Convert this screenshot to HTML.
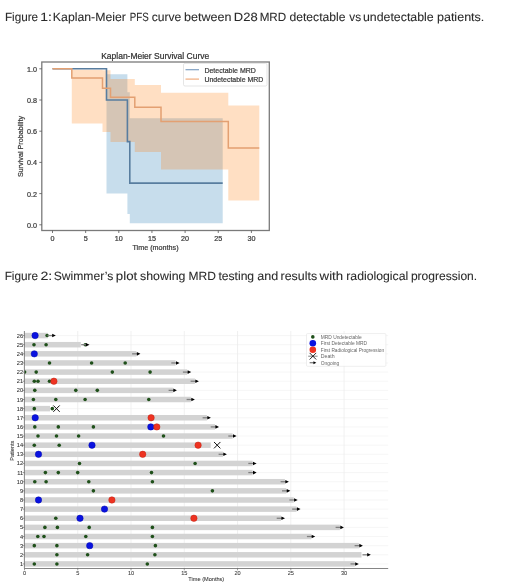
<!DOCTYPE html>
<html><head><meta charset="utf-8"><style>
html,body{margin:0;padding:0;background:#fff;}
body{width:520px;height:586px;overflow:hidden;position:relative;font-family:"Liberation Sans", sans-serif;}
#wrap{position:absolute;left:0;top:0;width:520px;height:586px;will-change:transform;}
svg{position:absolute;left:0;top:0;}
svg text{font-family:"Liberation Sans", sans-serif;}
.km text{stroke:#444;stroke-width:0.22px;}
.sw text{stroke:#444;stroke-width:0.08px;}
.cap{stroke:#2b2b2b;stroke-width:0.08px;text-rendering:geometricPrecision;}
</style></head><body>
<div id="wrap"><svg width="520" height="586" viewBox="0 0 520 586">
<rect width="520" height="586" fill="#fff"/>
<g>
<text class="cap" x="4.91" y="20.60" font-size="12" fill="#2b2b2b" textLength="33.21" lengthAdjust="spacingAndGlyphs">Figure</text>
<text class="cap" x="40.21" y="20.60" font-size="12" fill="#2b2b2b" textLength="11.62" lengthAdjust="spacingAndGlyphs">1:</text>
<text class="cap" x="52.87" y="20.60" font-size="12" fill="#2b2b2b" textLength="73.08" lengthAdjust="spacingAndGlyphs">Kaplan-Meier</text>
<text class="cap" x="129.74" y="20.60" font-size="12" fill="#2b2b2b" textLength="18.97" lengthAdjust="spacingAndGlyphs">PFS</text>
<text class="cap" x="151.65" y="20.60" font-size="12" fill="#2b2b2b" textLength="29.56" lengthAdjust="spacingAndGlyphs">curve</text>
<text class="cap" x="183.99" y="20.60" font-size="12" fill="#2b2b2b" textLength="47.41" lengthAdjust="spacingAndGlyphs">between</text>
<text class="cap" x="233.82" y="20.60" font-size="12" fill="#2b2b2b" textLength="23.80" lengthAdjust="spacingAndGlyphs">D28</text>
<text class="cap" x="259.66" y="20.60" font-size="12" fill="#2b2b2b" textLength="26.55" lengthAdjust="spacingAndGlyphs">MRD</text>
<text class="cap" x="289.48" y="20.60" font-size="12" fill="#2b2b2b" textLength="56.06" lengthAdjust="spacingAndGlyphs">detectable</text>
<text class="cap" x="349.35" y="20.60" font-size="12" fill="#2b2b2b" textLength="11.75" lengthAdjust="spacingAndGlyphs">vs</text>
<text class="cap" x="362.97" y="20.60" font-size="12" fill="#2b2b2b" textLength="70.73" lengthAdjust="spacingAndGlyphs">undetectable</text>
<text class="cap" x="436.94" y="20.60" font-size="12" fill="#2b2b2b" textLength="47.41" lengthAdjust="spacingAndGlyphs">patients.</text>
<text class="cap" x="4.66" y="279.60" font-size="12" fill="#2b2b2b" textLength="33.39" lengthAdjust="spacingAndGlyphs">Figure</text>
<text class="cap" x="40.44" y="279.60" font-size="12" fill="#2b2b2b" textLength="11.82" lengthAdjust="spacingAndGlyphs">2:</text>
<text class="cap" x="53.76" y="279.60" font-size="12" fill="#2b2b2b" textLength="59.48" lengthAdjust="spacingAndGlyphs">Swimmer’s</text>
<text class="cap" x="115.86" y="279.60" font-size="12" fill="#2b2b2b" textLength="21.42" lengthAdjust="spacingAndGlyphs">plot</text>
<text class="cap" x="140.08" y="279.60" font-size="12" fill="#2b2b2b" textLength="45.28" lengthAdjust="spacingAndGlyphs">showing</text>
<text class="cap" x="188.48" y="279.60" font-size="12" fill="#2b2b2b" textLength="27.39" lengthAdjust="spacingAndGlyphs">MRD</text>
<text class="cap" x="218.40" y="279.60" font-size="12" fill="#2b2b2b" textLength="35.73" lengthAdjust="spacingAndGlyphs">testing</text>
<text class="cap" x="257.37" y="279.60" font-size="12" fill="#2b2b2b" textLength="20.99" lengthAdjust="spacingAndGlyphs">and</text>
<text class="cap" x="280.62" y="279.60" font-size="12" fill="#2b2b2b" textLength="36.48" lengthAdjust="spacingAndGlyphs">results</text>
<text class="cap" x="319.59" y="279.60" font-size="12" fill="#2b2b2b" textLength="23.56" lengthAdjust="spacingAndGlyphs">with</text>
<text class="cap" x="346.28" y="279.60" font-size="12" fill="#2b2b2b" textLength="62.00" lengthAdjust="spacingAndGlyphs">radiological</text>
<text class="cap" x="410.91" y="279.60" font-size="12" fill="#2b2b2b" textLength="66.24" lengthAdjust="spacingAndGlyphs">progression.</text>
<g class="km"><path d="M106.5 74.26 L127.4 74.26 L127.4 92.2 L129.8 92.2 L129.8 118.25 L222.7 118.25 L222.7 223.24 L129.8 223.24 L129.8 213.88 L127.4 213.88 L127.4 193.6 L106.5 193.6 Z" fill="#1f77b4" fill-opacity="0.25"/>
<path d="M71.8 69.74 L102.5 69.74 L102.5 70.36 L110.5 70.36 L110.5 79.1 L134.8 79.1 L134.8 85.02 L161 85.02 L161 92.67 L228.3 92.67 L228.3 105.46 L259.3 105.46 L259.3 200.46 L228.3 200.46 L228.3 169.42 L161 169.42 L161 151.95 L134.8 151.95 L134.8 142.12 L110.5 142.12 L110.5 131.98 L102.5 131.98 L102.5 123.4 L71.8 123.4 Z" fill="#ff7f0e" fill-opacity="0.25"/>
<path d="M52.5 68.8 H106.5 V100 H127.4 V141.65 H129.8 V183.15 H222.7" fill="none" stroke="#587d9f" stroke-width="1.6"/>
<path d="M52.5 68.8 H71.8 V78 H102.5 V88.14 H110.5 V97.19 H134.8 V107.33 H161 V121.53 H228.3 V148.05 H259.3" fill="none" stroke="#e3a072" stroke-width="1.5"/>
<rect x="41.8" y="62" width="227.5" height="168.5" fill="none" stroke="#7a7a7a" stroke-width="1.3"/>
<line x1="39.3" y1="224.8" x2="41.8" y2="224.8" stroke="#555" stroke-width="0.8"/>
<text x="36.9" y="227.8" font-size="7.2" text-anchor="end" fill="#333">0.0</text>
<line x1="39.3" y1="193.6" x2="41.8" y2="193.6" stroke="#555" stroke-width="0.8"/>
<text x="36.9" y="196.6" font-size="7.2" text-anchor="end" fill="#333">0.2</text>
<line x1="39.3" y1="162.4" x2="41.8" y2="162.4" stroke="#555" stroke-width="0.8"/>
<text x="36.9" y="165.4" font-size="7.2" text-anchor="end" fill="#333">0.4</text>
<line x1="39.3" y1="131.2" x2="41.8" y2="131.2" stroke="#555" stroke-width="0.8"/>
<text x="36.9" y="134.2" font-size="7.2" text-anchor="end" fill="#333">0.6</text>
<line x1="39.3" y1="100" x2="41.8" y2="100" stroke="#555" stroke-width="0.8"/>
<text x="36.9" y="103" font-size="7.2" text-anchor="end" fill="#333">0.8</text>
<line x1="39.3" y1="68.8" x2="41.8" y2="68.8" stroke="#555" stroke-width="0.8"/>
<text x="36.9" y="71.8" font-size="7.2" text-anchor="end" fill="#333">1.0</text>
<line x1="52.5" y1="230.5" x2="52.5" y2="233" stroke="#555" stroke-width="0.8"/>
<text x="52.5" y="240.5" font-size="7.2" text-anchor="middle" fill="#333">0</text>
<line x1="85.65" y1="230.5" x2="85.65" y2="233" stroke="#555" stroke-width="0.8"/>
<text x="85.65" y="240.5" font-size="7.2" text-anchor="middle" fill="#333">5</text>
<line x1="118.8" y1="230.5" x2="118.8" y2="233" stroke="#555" stroke-width="0.8"/>
<text x="118.8" y="240.5" font-size="7.2" text-anchor="middle" fill="#333">10</text>
<line x1="151.95" y1="230.5" x2="151.95" y2="233" stroke="#555" stroke-width="0.8"/>
<text x="151.95" y="240.5" font-size="7.2" text-anchor="middle" fill="#333">15</text>
<line x1="185.1" y1="230.5" x2="185.1" y2="233" stroke="#555" stroke-width="0.8"/>
<text x="185.1" y="240.5" font-size="7.2" text-anchor="middle" fill="#333">20</text>
<line x1="218.25" y1="230.5" x2="218.25" y2="233" stroke="#555" stroke-width="0.8"/>
<text x="218.25" y="240.5" font-size="7.2" text-anchor="middle" fill="#333">25</text>
<line x1="251.4" y1="230.5" x2="251.4" y2="233" stroke="#555" stroke-width="0.8"/>
<text x="251.4" y="240.5" font-size="7.2" text-anchor="middle" fill="#333">30</text>
<text x="155.2" y="58.5" font-size="8.6" text-anchor="middle" fill="#222" textLength="108" lengthAdjust="spacingAndGlyphs">Kaplan-Meier Survival Curve</text>
<text x="155.5" y="249.5" font-size="7.2" text-anchor="middle" fill="#333">Time (months)</text>
<text transform="translate(22.8,146.5) rotate(-90)" font-size="7.2" text-anchor="middle" fill="#333">Survival Probability</text>
<rect x="183.5" y="63.4" width="83.5" height="22.6" rx="1.5" fill="#fff" fill-opacity="0.85" stroke="#dadada" stroke-width="0.7"/>
<line x1="185.5" y1="69.7" x2="199" y2="69.7" stroke="#7fa0c2" stroke-width="1.2"/>
<line x1="185.5" y1="79.1" x2="199" y2="79.1" stroke="#f0ad7e" stroke-width="1.2"/>
<text x="204.4" y="72.5" font-size="7.2" fill="#333" textLength="51.5" lengthAdjust="spacingAndGlyphs">Detectable MRD</text>
<text x="204.4" y="81.8" font-size="7.2" fill="#333" textLength="59" lengthAdjust="spacingAndGlyphs">Undetectable MRD</text></g>
<g class="sw"><defs><clipPath id="swclip"><rect x="24.4" y="331" width="363" height="237.5"/></clipPath></defs>
<line x1="77.76" y1="331" x2="77.76" y2="568.5" stroke="#e6e6e6" stroke-width="0.6"/>
<line x1="131.02" y1="331" x2="131.02" y2="568.5" stroke="#e6e6e6" stroke-width="0.6"/>
<line x1="184.28" y1="331" x2="184.28" y2="568.5" stroke="#e6e6e6" stroke-width="0.6"/>
<line x1="237.54" y1="331" x2="237.54" y2="568.5" stroke="#e6e6e6" stroke-width="0.6"/>
<line x1="290.8" y1="331" x2="290.8" y2="568.5" stroke="#e6e6e6" stroke-width="0.6"/>
<line x1="344.06" y1="331" x2="344.06" y2="568.5" stroke="#e6e6e6" stroke-width="0.6"/>
<line x1="24.4" y1="563.93" x2="388.2" y2="563.93" stroke="#ececec" stroke-width="0.5"/>
<line x1="24.4" y1="554.8" x2="388.2" y2="554.8" stroke="#ececec" stroke-width="0.5"/>
<line x1="24.4" y1="545.66" x2="388.2" y2="545.66" stroke="#ececec" stroke-width="0.5"/>
<line x1="24.4" y1="536.53" x2="388.2" y2="536.53" stroke="#ececec" stroke-width="0.5"/>
<line x1="24.4" y1="527.39" x2="388.2" y2="527.39" stroke="#ececec" stroke-width="0.5"/>
<line x1="24.4" y1="518.26" x2="388.2" y2="518.26" stroke="#ececec" stroke-width="0.5"/>
<line x1="24.4" y1="509.12" x2="388.2" y2="509.12" stroke="#ececec" stroke-width="0.5"/>
<line x1="24.4" y1="499.99" x2="388.2" y2="499.99" stroke="#ececec" stroke-width="0.5"/>
<line x1="24.4" y1="490.85" x2="388.2" y2="490.85" stroke="#ececec" stroke-width="0.5"/>
<line x1="24.4" y1="481.72" x2="388.2" y2="481.72" stroke="#ececec" stroke-width="0.5"/>
<line x1="24.4" y1="472.58" x2="388.2" y2="472.58" stroke="#ececec" stroke-width="0.5"/>
<line x1="24.4" y1="463.45" x2="388.2" y2="463.45" stroke="#ececec" stroke-width="0.5"/>
<line x1="24.4" y1="454.31" x2="388.2" y2="454.31" stroke="#ececec" stroke-width="0.5"/>
<line x1="24.4" y1="445.18" x2="388.2" y2="445.18" stroke="#ececec" stroke-width="0.5"/>
<line x1="24.4" y1="436.04" x2="388.2" y2="436.04" stroke="#ececec" stroke-width="0.5"/>
<line x1="24.4" y1="426.91" x2="388.2" y2="426.91" stroke="#ececec" stroke-width="0.5"/>
<line x1="24.4" y1="417.77" x2="388.2" y2="417.77" stroke="#ececec" stroke-width="0.5"/>
<line x1="24.4" y1="408.64" x2="388.2" y2="408.64" stroke="#ececec" stroke-width="0.5"/>
<line x1="24.4" y1="399.5" x2="388.2" y2="399.5" stroke="#ececec" stroke-width="0.5"/>
<line x1="24.4" y1="390.37" x2="388.2" y2="390.37" stroke="#ececec" stroke-width="0.5"/>
<line x1="24.4" y1="381.23" x2="388.2" y2="381.23" stroke="#ececec" stroke-width="0.5"/>
<line x1="24.4" y1="372.1" x2="388.2" y2="372.1" stroke="#ececec" stroke-width="0.5"/>
<line x1="24.4" y1="362.96" x2="388.2" y2="362.96" stroke="#ececec" stroke-width="0.5"/>
<line x1="24.4" y1="353.83" x2="388.2" y2="353.83" stroke="#ececec" stroke-width="0.5"/>
<line x1="24.4" y1="344.69" x2="388.2" y2="344.69" stroke="#ececec" stroke-width="0.5"/>
<line x1="24.4" y1="335.56" x2="388.2" y2="335.56" stroke="#ececec" stroke-width="0.5"/>
<rect x="24.4" y="332.81" width="23.4" height="5.5" fill="#d3d3d3"/>
<rect x="24.4" y="341.94" width="56.4" height="5.5" fill="#d3d3d3"/>
<rect x="24.4" y="351.08" width="112" height="5.5" fill="#d3d3d3"/>
<rect x="24.4" y="360.21" width="151.2" height="5.5" fill="#d3d3d3"/>
<rect x="24.4" y="369.35" width="162.8" height="5.5" fill="#d3d3d3"/>
<rect x="24.4" y="378.48" width="170.5" height="5.5" fill="#d3d3d3"/>
<rect x="24.4" y="387.62" width="148.5" height="5.5" fill="#d3d3d3"/>
<rect x="24.4" y="396.75" width="166.5" height="5.5" fill="#d3d3d3"/>
<rect x="24.4" y="405.89" width="25.6" height="5.5" fill="#d3d3d3"/>
<rect x="24.4" y="415.02" width="182.5" height="5.5" fill="#d3d3d3"/>
<rect x="24.4" y="424.16" width="190.6" height="5.5" fill="#d3d3d3"/>
<rect x="24.4" y="433.29" width="208.2" height="5.5" fill="#d3d3d3"/>
<rect x="24.4" y="442.43" width="186.3" height="5.5" fill="#d3d3d3"/>
<rect x="24.4" y="451.56" width="198.5" height="5.5" fill="#d3d3d3"/>
<rect x="24.4" y="460.7" width="228.2" height="5.5" fill="#d3d3d3"/>
<rect x="24.4" y="469.83" width="228.2" height="5.5" fill="#d3d3d3"/>
<rect x="24.4" y="478.97" width="260.5" height="5.5" fill="#d3d3d3"/>
<rect x="24.4" y="488.1" width="261.9" height="5.5" fill="#d3d3d3"/>
<rect x="24.4" y="497.24" width="269.3" height="5.5" fill="#d3d3d3"/>
<rect x="24.4" y="506.37" width="272.1" height="5.5" fill="#d3d3d3"/>
<rect x="24.4" y="515.51" width="256.6" height="5.5" fill="#d3d3d3"/>
<rect x="24.4" y="524.64" width="315.5" height="5.5" fill="#d3d3d3"/>
<rect x="24.4" y="533.78" width="286.8" height="5.5" fill="#d3d3d3"/>
<rect x="24.4" y="542.91" width="334.5" height="5.5" fill="#d3d3d3"/>
<rect x="24.4" y="552.05" width="337.1" height="5.5" fill="#d3d3d3"/>
<rect x="24.4" y="561.18" width="330.4" height="5.5" fill="#d3d3d3"/>
<circle cx="47.1" cy="335.56" r="1.8" fill="#1f501a" clip-path="url(#swclip)"/>
<circle cx="35.1" cy="335.56" r="3.2" fill="#0a12e0" stroke="#0008b0" stroke-width="0.5"/>
<line x1="47.5" y1="335.56" x2="52.8" y2="335.56" stroke="#808080" stroke-width="1.3"/><path d="M55.8 335.56 L52.2 333.76 L52.2 337.36 Z" fill="#000"/>
<circle cx="34" cy="344.69" r="1.8" fill="#1f501a" clip-path="url(#swclip)"/>
<circle cx="46.1" cy="344.69" r="1.8" fill="#1f501a" clip-path="url(#swclip)"/>
<circle cx="85.3" cy="344.69" r="1.8" fill="#1f501a" clip-path="url(#swclip)"/>
<line x1="81.2" y1="344.69" x2="86.5" y2="344.69" stroke="#808080" stroke-width="1.3"/><path d="M89.5 344.69 L85.9 342.89 L85.9 346.49 Z" fill="#000"/>
<circle cx="34.3" cy="353.83" r="3.2" fill="#0a12e0" stroke="#0008b0" stroke-width="0.5"/>
<line x1="132.1" y1="353.83" x2="137.4" y2="353.83" stroke="#808080" stroke-width="1.3"/><path d="M140.4 353.83 L136.8 352.03 L136.8 355.63 Z" fill="#000"/>
<circle cx="49.5" cy="362.96" r="1.8" fill="#1f501a" clip-path="url(#swclip)"/>
<circle cx="91.6" cy="362.96" r="1.8" fill="#1f501a" clip-path="url(#swclip)"/>
<circle cx="125.2" cy="362.96" r="1.8" fill="#1f501a" clip-path="url(#swclip)"/>
<line x1="171.3" y1="362.96" x2="176.6" y2="362.96" stroke="#808080" stroke-width="1.3"/><path d="M179.6 362.96 L176 361.16 L176 364.76 Z" fill="#000"/>
<circle cx="24.6" cy="372.1" r="1.8" fill="#1f501a" clip-path="url(#swclip)"/>
<circle cx="36.2" cy="372.1" r="1.8" fill="#1f501a" clip-path="url(#swclip)"/>
<circle cx="112.3" cy="372.1" r="1.8" fill="#1f501a" clip-path="url(#swclip)"/>
<circle cx="150.1" cy="372.1" r="1.8" fill="#1f501a" clip-path="url(#swclip)"/>
<line x1="182.9" y1="372.1" x2="188.2" y2="372.1" stroke="#808080" stroke-width="1.3"/><path d="M191.2 372.1 L187.6 370.3 L187.6 373.9 Z" fill="#000"/>
<circle cx="34.3" cy="381.23" r="1.8" fill="#1f501a" clip-path="url(#swclip)"/>
<circle cx="38" cy="381.23" r="1.8" fill="#1f501a" clip-path="url(#swclip)"/>
<circle cx="49.5" cy="381.23" r="1.8" fill="#1f501a" clip-path="url(#swclip)"/>
<circle cx="53.9" cy="381.23" r="3.2" fill="#ee3322" stroke="#c02414" stroke-width="0.5"/>
<line x1="190.6" y1="381.23" x2="195.9" y2="381.23" stroke="#808080" stroke-width="1.3"/><path d="M198.9 381.23 L195.3 379.43 L195.3 383.03 Z" fill="#000"/>
<circle cx="34.8" cy="390.37" r="1.8" fill="#1f501a" clip-path="url(#swclip)"/>
<circle cx="75.8" cy="390.37" r="1.8" fill="#1f501a" clip-path="url(#swclip)"/>
<circle cx="97.3" cy="390.37" r="1.8" fill="#1f501a" clip-path="url(#swclip)"/>
<line x1="168.6" y1="390.37" x2="173.9" y2="390.37" stroke="#808080" stroke-width="1.3"/><path d="M176.9 390.37 L173.3 388.57 L173.3 392.17 Z" fill="#000"/>
<circle cx="33.4" cy="399.5" r="1.8" fill="#1f501a" clip-path="url(#swclip)"/>
<circle cx="55.8" cy="399.5" r="1.8" fill="#1f501a" clip-path="url(#swclip)"/>
<circle cx="85.1" cy="399.5" r="1.8" fill="#1f501a" clip-path="url(#swclip)"/>
<circle cx="148.8" cy="399.5" r="1.8" fill="#1f501a" clip-path="url(#swclip)"/>
<line x1="186.6" y1="399.5" x2="191.9" y2="399.5" stroke="#808080" stroke-width="1.3"/><path d="M194.9 399.5 L191.3 397.7 L191.3 401.3 Z" fill="#000"/>
<circle cx="34.3" cy="408.64" r="1.8" fill="#1f501a" clip-path="url(#swclip)"/>
<circle cx="52.3" cy="408.64" r="1.8" fill="#1f501a" clip-path="url(#swclip)"/>
<path d="M53.3 405.44 L59.7 411.84 M53.3 411.84 L59.7 405.44" stroke="#111" stroke-width="1"/>
<circle cx="35.2" cy="417.77" r="3.2" fill="#0a12e0" stroke="#0008b0" stroke-width="0.5"/>
<circle cx="151.1" cy="417.77" r="3.2" fill="#ee3322" stroke="#c02414" stroke-width="0.5"/>
<line x1="202.6" y1="417.77" x2="207.9" y2="417.77" stroke="#808080" stroke-width="1.3"/><path d="M210.9 417.77 L207.3 415.97 L207.3 419.57 Z" fill="#000"/>
<circle cx="34.8" cy="426.91" r="1.8" fill="#1f501a" clip-path="url(#swclip)"/>
<circle cx="58.3" cy="426.91" r="1.8" fill="#1f501a" clip-path="url(#swclip)"/>
<circle cx="93.4" cy="426.91" r="1.8" fill="#1f501a" clip-path="url(#swclip)"/>
<circle cx="150.8" cy="426.91" r="3.2" fill="#0a12e0" stroke="#0008b0" stroke-width="0.5"/>
<circle cx="156.8" cy="426.91" r="3.2" fill="#ee3322" stroke="#c02414" stroke-width="0.5"/>
<line x1="210.7" y1="426.91" x2="216" y2="426.91" stroke="#808080" stroke-width="1.3"/><path d="M219 426.91 L215.4 425.11 L215.4 428.71 Z" fill="#000"/>
<circle cx="38" cy="436.04" r="1.8" fill="#1f501a" clip-path="url(#swclip)"/>
<circle cx="56.5" cy="436.04" r="1.8" fill="#1f501a" clip-path="url(#swclip)"/>
<circle cx="78.6" cy="436.04" r="1.8" fill="#1f501a" clip-path="url(#swclip)"/>
<circle cx="163.5" cy="436.04" r="1.8" fill="#1f501a" clip-path="url(#swclip)"/>
<line x1="228.3" y1="436.04" x2="233.6" y2="436.04" stroke="#808080" stroke-width="1.3"/><path d="M236.6 436.04 L233 434.24 L233 437.84 Z" fill="#000"/>
<circle cx="34.3" cy="445.18" r="1.8" fill="#1f501a" clip-path="url(#swclip)"/>
<circle cx="59.2" cy="445.18" r="1.8" fill="#1f501a" clip-path="url(#swclip)"/>
<circle cx="92" cy="445.18" r="3.2" fill="#0a12e0" stroke="#0008b0" stroke-width="0.5"/>
<circle cx="198.1" cy="445.18" r="3.2" fill="#ee3322" stroke="#c02414" stroke-width="0.5"/>
<path d="M214 441.98 L220.4 448.38 M214 448.38 L220.4 441.98" stroke="#111" stroke-width="1"/>
<circle cx="38.5" cy="454.31" r="3.2" fill="#0a12e0" stroke="#0008b0" stroke-width="0.5"/>
<circle cx="142.7" cy="454.31" r="3.2" fill="#ee3322" stroke="#c02414" stroke-width="0.5"/>
<line x1="218.6" y1="454.31" x2="223.9" y2="454.31" stroke="#808080" stroke-width="1.3"/><path d="M226.9 454.31 L223.3 452.51 L223.3 456.11 Z" fill="#000"/>
<circle cx="79.5" cy="463.45" r="1.8" fill="#1f501a" clip-path="url(#swclip)"/>
<circle cx="195.1" cy="463.45" r="1.8" fill="#1f501a" clip-path="url(#swclip)"/>
<line x1="248.3" y1="463.45" x2="253.6" y2="463.45" stroke="#808080" stroke-width="1.3"/><path d="M256.6 463.45 L253 461.65 L253 465.25 Z" fill="#000"/>
<circle cx="45.4" cy="472.58" r="1.8" fill="#1f501a" clip-path="url(#swclip)"/>
<circle cx="58.3" cy="472.58" r="1.8" fill="#1f501a" clip-path="url(#swclip)"/>
<circle cx="77.7" cy="472.58" r="1.8" fill="#1f501a" clip-path="url(#swclip)"/>
<circle cx="151.5" cy="472.58" r="1.8" fill="#1f501a" clip-path="url(#swclip)"/>
<line x1="248.3" y1="472.58" x2="253.6" y2="472.58" stroke="#808080" stroke-width="1.3"/><path d="M256.6 472.58 L253 470.78 L253 474.38 Z" fill="#000"/>
<circle cx="34.8" cy="481.72" r="1.8" fill="#1f501a" clip-path="url(#swclip)"/>
<circle cx="46.1" cy="481.72" r="1.8" fill="#1f501a" clip-path="url(#swclip)"/>
<circle cx="88.8" cy="481.72" r="1.8" fill="#1f501a" clip-path="url(#swclip)"/>
<circle cx="152.4" cy="481.72" r="1.8" fill="#1f501a" clip-path="url(#swclip)"/>
<line x1="280.6" y1="481.72" x2="285.9" y2="481.72" stroke="#808080" stroke-width="1.3"/><path d="M288.9 481.72 L285.3 479.92 L285.3 483.52 Z" fill="#000"/>
<circle cx="93.4" cy="490.85" r="1.8" fill="#1f501a" clip-path="url(#swclip)"/>
<circle cx="212.4" cy="490.85" r="1.8" fill="#1f501a" clip-path="url(#swclip)"/>
<line x1="282" y1="490.85" x2="287.3" y2="490.85" stroke="#808080" stroke-width="1.3"/><path d="M290.3 490.85 L286.7 489.05 L286.7 492.65 Z" fill="#000"/>
<circle cx="38.5" cy="499.99" r="3.2" fill="#0a12e0" stroke="#0008b0" stroke-width="0.5"/>
<circle cx="111.9" cy="499.99" r="3.2" fill="#ee3322" stroke="#c02414" stroke-width="0.5"/>
<line x1="289.4" y1="499.99" x2="294.7" y2="499.99" stroke="#808080" stroke-width="1.3"/><path d="M297.7 499.99 L294.1 498.19 L294.1 501.79 Z" fill="#000"/>
<circle cx="104.5" cy="509.12" r="3.2" fill="#0a12e0" stroke="#0008b0" stroke-width="0.5"/>
<line x1="292.2" y1="509.12" x2="297.5" y2="509.12" stroke="#808080" stroke-width="1.3"/><path d="M300.5 509.12 L296.9 507.32 L296.9 510.92 Z" fill="#000"/>
<circle cx="55.8" cy="518.26" r="1.8" fill="#1f501a" clip-path="url(#swclip)"/>
<circle cx="80" cy="518.26" r="3.2" fill="#0a12e0" stroke="#0008b0" stroke-width="0.5"/>
<circle cx="193.9" cy="518.26" r="3.2" fill="#ee3322" stroke="#c02414" stroke-width="0.5"/>
<line x1="276.7" y1="518.26" x2="282" y2="518.26" stroke="#808080" stroke-width="1.3"/><path d="M285 518.26 L281.4 516.46 L281.4 520.06 Z" fill="#000"/>
<circle cx="44.9" cy="527.39" r="1.8" fill="#1f501a" clip-path="url(#swclip)"/>
<circle cx="57.4" cy="527.39" r="1.8" fill="#1f501a" clip-path="url(#swclip)"/>
<circle cx="89.2" cy="527.39" r="1.8" fill="#1f501a" clip-path="url(#swclip)"/>
<circle cx="152.4" cy="527.39" r="1.8" fill="#1f501a" clip-path="url(#swclip)"/>
<line x1="335.6" y1="527.39" x2="340.9" y2="527.39" stroke="#808080" stroke-width="1.3"/><path d="M343.9 527.39 L340.3 525.59 L340.3 529.19 Z" fill="#000"/>
<circle cx="37.8" cy="536.53" r="1.8" fill="#1f501a" clip-path="url(#swclip)"/>
<circle cx="44" cy="536.53" r="1.8" fill="#1f501a" clip-path="url(#swclip)"/>
<circle cx="85.8" cy="536.53" r="1.8" fill="#1f501a" clip-path="url(#swclip)"/>
<circle cx="152.4" cy="536.53" r="1.8" fill="#1f501a" clip-path="url(#swclip)"/>
<line x1="306.9" y1="536.53" x2="312.2" y2="536.53" stroke="#808080" stroke-width="1.3"/><path d="M315.2 536.53 L311.6 534.73 L311.6 538.33 Z" fill="#000"/>
<circle cx="34.3" cy="545.66" r="1.8" fill="#1f501a" clip-path="url(#swclip)"/>
<circle cx="56.9" cy="545.66" r="1.8" fill="#1f501a" clip-path="url(#swclip)"/>
<circle cx="155.4" cy="545.66" r="1.8" fill="#1f501a" clip-path="url(#swclip)"/>
<circle cx="89.7" cy="545.66" r="3.2" fill="#0a12e0" stroke="#0008b0" stroke-width="0.5"/>
<line x1="354.6" y1="545.66" x2="359.9" y2="545.66" stroke="#808080" stroke-width="1.3"/><path d="M362.9 545.66 L359.3 543.86 L359.3 547.46 Z" fill="#000"/>
<circle cx="56.9" cy="554.8" r="1.8" fill="#1f501a" clip-path="url(#swclip)"/>
<circle cx="87.6" cy="554.8" r="1.8" fill="#1f501a" clip-path="url(#swclip)"/>
<circle cx="154.9" cy="554.8" r="1.8" fill="#1f501a" clip-path="url(#swclip)"/>
<line x1="362.5" y1="554.8" x2="367.8" y2="554.8" stroke="#808080" stroke-width="1.3"/><path d="M370.8 554.8 L367.2 553 L367.2 556.6 Z" fill="#000"/>
<circle cx="34.3" cy="563.93" r="1.8" fill="#1f501a" clip-path="url(#swclip)"/>
<circle cx="56.9" cy="563.93" r="1.8" fill="#1f501a" clip-path="url(#swclip)"/>
<circle cx="147.3" cy="563.93" r="1.8" fill="#1f501a" clip-path="url(#swclip)"/>
<line x1="350.5" y1="563.93" x2="355.8" y2="563.93" stroke="#808080" stroke-width="1.3"/><path d="M358.8 563.93 L355.2 562.13 L355.2 565.73 Z" fill="#000"/>
<line x1="24.4" y1="331" x2="24.4" y2="568.5" stroke="#666" stroke-width="0.8"/>
<line x1="24.4" y1="568.5" x2="388.2" y2="568.5" stroke="#666" stroke-width="0.8"/>
<line x1="22.6" y1="563.93" x2="24.4" y2="563.93" stroke="#555" stroke-width="0.6"/>
<text x="23" y="565.93" font-size="5.6" text-anchor="end" fill="#2a2a2a">1</text>
<line x1="22.6" y1="554.8" x2="24.4" y2="554.8" stroke="#555" stroke-width="0.6"/>
<text x="23" y="556.8" font-size="5.6" text-anchor="end" fill="#2a2a2a">2</text>
<line x1="22.6" y1="545.66" x2="24.4" y2="545.66" stroke="#555" stroke-width="0.6"/>
<text x="23" y="547.66" font-size="5.6" text-anchor="end" fill="#2a2a2a">3</text>
<line x1="22.6" y1="536.53" x2="24.4" y2="536.53" stroke="#555" stroke-width="0.6"/>
<text x="23" y="538.53" font-size="5.6" text-anchor="end" fill="#2a2a2a">4</text>
<line x1="22.6" y1="527.39" x2="24.4" y2="527.39" stroke="#555" stroke-width="0.6"/>
<text x="23" y="529.39" font-size="5.6" text-anchor="end" fill="#2a2a2a">5</text>
<line x1="22.6" y1="518.26" x2="24.4" y2="518.26" stroke="#555" stroke-width="0.6"/>
<text x="23" y="520.26" font-size="5.6" text-anchor="end" fill="#2a2a2a">6</text>
<line x1="22.6" y1="509.12" x2="24.4" y2="509.12" stroke="#555" stroke-width="0.6"/>
<text x="23" y="511.12" font-size="5.6" text-anchor="end" fill="#2a2a2a">7</text>
<line x1="22.6" y1="499.99" x2="24.4" y2="499.99" stroke="#555" stroke-width="0.6"/>
<text x="23" y="501.99" font-size="5.6" text-anchor="end" fill="#2a2a2a">8</text>
<line x1="22.6" y1="490.85" x2="24.4" y2="490.85" stroke="#555" stroke-width="0.6"/>
<text x="23" y="492.85" font-size="5.6" text-anchor="end" fill="#2a2a2a">9</text>
<line x1="22.6" y1="481.72" x2="24.4" y2="481.72" stroke="#555" stroke-width="0.6"/>
<text x="23" y="483.72" font-size="5.6" text-anchor="end" fill="#2a2a2a">10</text>
<line x1="22.6" y1="472.58" x2="24.4" y2="472.58" stroke="#555" stroke-width="0.6"/>
<text x="23" y="474.58" font-size="5.6" text-anchor="end" fill="#2a2a2a">11</text>
<line x1="22.6" y1="463.45" x2="24.4" y2="463.45" stroke="#555" stroke-width="0.6"/>
<text x="23" y="465.45" font-size="5.6" text-anchor="end" fill="#2a2a2a">12</text>
<line x1="22.6" y1="454.31" x2="24.4" y2="454.31" stroke="#555" stroke-width="0.6"/>
<text x="23" y="456.31" font-size="5.6" text-anchor="end" fill="#2a2a2a">13</text>
<line x1="22.6" y1="445.18" x2="24.4" y2="445.18" stroke="#555" stroke-width="0.6"/>
<text x="23" y="447.18" font-size="5.6" text-anchor="end" fill="#2a2a2a">14</text>
<line x1="22.6" y1="436.04" x2="24.4" y2="436.04" stroke="#555" stroke-width="0.6"/>
<text x="23" y="438.04" font-size="5.6" text-anchor="end" fill="#2a2a2a">15</text>
<line x1="22.6" y1="426.91" x2="24.4" y2="426.91" stroke="#555" stroke-width="0.6"/>
<text x="23" y="428.91" font-size="5.6" text-anchor="end" fill="#2a2a2a">16</text>
<line x1="22.6" y1="417.77" x2="24.4" y2="417.77" stroke="#555" stroke-width="0.6"/>
<text x="23" y="419.77" font-size="5.6" text-anchor="end" fill="#2a2a2a">17</text>
<line x1="22.6" y1="408.64" x2="24.4" y2="408.64" stroke="#555" stroke-width="0.6"/>
<text x="23" y="410.64" font-size="5.6" text-anchor="end" fill="#2a2a2a">18</text>
<line x1="22.6" y1="399.5" x2="24.4" y2="399.5" stroke="#555" stroke-width="0.6"/>
<text x="23" y="401.5" font-size="5.6" text-anchor="end" fill="#2a2a2a">19</text>
<line x1="22.6" y1="390.37" x2="24.4" y2="390.37" stroke="#555" stroke-width="0.6"/>
<text x="23" y="392.37" font-size="5.6" text-anchor="end" fill="#2a2a2a">20</text>
<line x1="22.6" y1="381.23" x2="24.4" y2="381.23" stroke="#555" stroke-width="0.6"/>
<text x="23" y="383.23" font-size="5.6" text-anchor="end" fill="#2a2a2a">21</text>
<line x1="22.6" y1="372.1" x2="24.4" y2="372.1" stroke="#555" stroke-width="0.6"/>
<text x="23" y="374.1" font-size="5.6" text-anchor="end" fill="#2a2a2a">22</text>
<line x1="22.6" y1="362.96" x2="24.4" y2="362.96" stroke="#555" stroke-width="0.6"/>
<text x="23" y="364.96" font-size="5.6" text-anchor="end" fill="#2a2a2a">23</text>
<line x1="22.6" y1="353.83" x2="24.4" y2="353.83" stroke="#555" stroke-width="0.6"/>
<text x="23" y="355.83" font-size="5.6" text-anchor="end" fill="#2a2a2a">24</text>
<line x1="22.6" y1="344.69" x2="24.4" y2="344.69" stroke="#555" stroke-width="0.6"/>
<text x="23" y="346.69" font-size="5.6" text-anchor="end" fill="#2a2a2a">25</text>
<line x1="22.6" y1="335.56" x2="24.4" y2="335.56" stroke="#555" stroke-width="0.6"/>
<text x="23" y="337.56" font-size="5.6" text-anchor="end" fill="#2a2a2a">26</text>
<line x1="24.5" y1="568.5" x2="24.5" y2="570.3" stroke="#555" stroke-width="0.6"/>
<text x="24.5" y="574.5" font-size="5.6" text-anchor="middle" fill="#3a3a3a">0</text>
<line x1="77.76" y1="568.5" x2="77.76" y2="570.3" stroke="#555" stroke-width="0.6"/>
<text x="77.76" y="574.5" font-size="5.6" text-anchor="middle" fill="#3a3a3a">5</text>
<line x1="131.02" y1="568.5" x2="131.02" y2="570.3" stroke="#555" stroke-width="0.6"/>
<text x="131.02" y="574.5" font-size="5.6" text-anchor="middle" fill="#3a3a3a">10</text>
<line x1="184.28" y1="568.5" x2="184.28" y2="570.3" stroke="#555" stroke-width="0.6"/>
<text x="184.28" y="574.5" font-size="5.6" text-anchor="middle" fill="#3a3a3a">15</text>
<line x1="237.54" y1="568.5" x2="237.54" y2="570.3" stroke="#555" stroke-width="0.6"/>
<text x="237.54" y="574.5" font-size="5.6" text-anchor="middle" fill="#3a3a3a">20</text>
<line x1="290.8" y1="568.5" x2="290.8" y2="570.3" stroke="#555" stroke-width="0.6"/>
<text x="290.8" y="574.5" font-size="5.6" text-anchor="middle" fill="#3a3a3a">25</text>
<line x1="344.06" y1="568.5" x2="344.06" y2="570.3" stroke="#555" stroke-width="0.6"/>
<text x="344.06" y="574.5" font-size="5.6" text-anchor="middle" fill="#3a3a3a">30</text>
<text x="206.3" y="580.5" font-size="5.6" text-anchor="middle" fill="#333">Time (Months)</text>
<text transform="translate(13.8,450.7) rotate(-90)" font-size="5.6" text-anchor="middle" fill="#333">Patients</text>
<rect x="306.5" y="333.6" width="79.4" height="32.7" rx="1" fill="#fff" fill-opacity="0.85" stroke="#e2e2e2" stroke-width="0.6"/>
<circle cx="312.8" cy="336.9" r="1.8" fill="#1f501a"/>
<circle cx="312.8" cy="343.2" r="3.3" fill="#0a12e0"/>
<circle cx="312.8" cy="349.7" r="3.3" fill="#ee3322"/>
<line x1="308.2" y1="356.2" x2="317.6" y2="356.2" stroke="#333" stroke-width="0.6"/>
<path d="M309.6 352.9 L316.2 359.5 M309.6 359.5 L316.2 352.9" stroke="#111" stroke-width="0.9"/>
<line x1="309.66" y1="362.7" x2="313.9" y2="362.7" stroke="#808080" stroke-width="1.3"/><path d="M316.3 362.7 L313.42 361.26 L313.42 364.14 Z" fill="#000"/>
<text x="320.8" y="338.7" font-size="5.0" fill="#666" style="stroke:none" textLength="40.9" lengthAdjust="spacingAndGlyphs">MRD Undetectable</text>
<text x="320.8" y="345" font-size="5.0" fill="#666" style="stroke:none" textLength="46.3" lengthAdjust="spacingAndGlyphs">First Detectable MRD</text>
<text x="320.8" y="351.5" font-size="5.0" fill="#666" style="stroke:none" textLength="63.3" lengthAdjust="spacingAndGlyphs">First Radiological Progression</text>
<text x="320.8" y="358" font-size="5.0" fill="#666" style="stroke:none" textLength="13.9" lengthAdjust="spacingAndGlyphs">Death</text>
<text x="320.8" y="364.5" font-size="5.0" fill="#666" style="stroke:none" textLength="18.5" lengthAdjust="spacingAndGlyphs">Ongoing</text></g>
</g>
</svg></div>
</body></html>
